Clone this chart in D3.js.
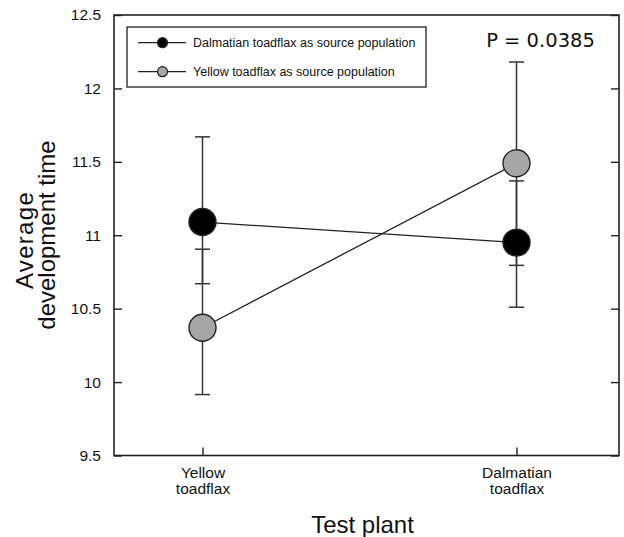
<!DOCTYPE html>
<html><head><meta charset="utf-8">
<script src="https://cdn.jsdelivr.net/npm/d3@7"></script>
<style>body{margin:0;background:#fff}svg{display:block}</style>
</head><body>
<svg id="chart" width="624" height="537"></svg>
<script>
const categories = ["Yellow toadflax", "Dalmatian toadflax"];
const categoryLines = [["Yellow", "toadflax"], ["Dalmatian", "toadflax"]];
const seriesNames = ["Dalmatian toadflax as source population", "Yellow toadflax as source population"];
const dalmatianMean = [11.09, 10.95];
const dalmatianLow = [10.67, 10.51];
const dalmatianHigh = [11.67, 11.37];
const yellowMean = [10.37, 11.49];
const yellowLow = [9.915, 10.795];
const yellowHigh = [10.905, 12.18];
const yTicks = [9.5, 10, 10.5, 11, 11.5, 12, 12.5];
const pText = "P = 0.0385";

const svg = d3.select("#chart");
const L = 114, R = 619, T = 15, B = 455.5;
const y = d3.scaleLinear().domain([9.5, 12.5]).range([B, T]);
const x = d3.scalePoint().domain(categories).range([202.5, 516.5]).padding(0);

const font = "'Liberation Sans', Arial, Helvetica, sans-serif";

// left axis
const gl = svg.append("g").attr("transform", `translate(${L},0)`)
  .call(d3.axisLeft(y).tickValues(yTicks).tickSizeInner(-8).tickSizeOuter(0).tickPadding(13).tickFormat(d3.format("")));
gl.select(".domain").remove();
gl.selectAll("line").attr("stroke", "#222").attr("stroke-width", 1.4);
gl.selectAll("text").attr("font-family", font).attr("font-size", 15.5).attr("fill", "#111");

// right axis
const gr = svg.append("g").attr("transform", `translate(${R},0)`)
  .call(d3.axisRight(y).tickValues(yTicks).tickSizeInner(-8).tickSizeOuter(0).tickFormat(""));
gr.select(".domain").remove();
gr.selectAll("line").attr("stroke", "#222").attr("stroke-width", 1.4);

// bottom axis
const gb = svg.append("g").attr("transform", `translate(0,${B})`)
  .call(d3.axisBottom(x).tickSizeInner(-8).tickSizeOuter(0).tickFormat(""));
gb.select(".domain").remove();
gb.selectAll("line").attr("stroke", "#222").attr("stroke-width", 1.4);
gb.selectAll(".tick").each(function(d, i) {
  const t = d3.select(this).append("text").attr("font-family", font).attr("font-size", 15.5)
    .attr("fill", "#111").attr("text-anchor", "middle");
  categoryLines[i].forEach((s, j) => t.append("tspan").attr("x", 0).attr("y", 22 + j * 16).text(s));
});

// frame
svg.append("rect").attr("x", L).attr("y", T).attr("width", R - L).attr("height", B - T)
  .attr("fill", "none").attr("stroke", "#222").attr("stroke-width", 1.6);

// series
const series = [
  {mean: yellowMean, low: yellowLow, high: yellowHigh, fill: "#a6a6a6"},
  {mean: dalmatianMean, low: dalmatianLow, high: dalmatianHigh, fill: "#000"}
];
const line = d3.line().x((d, i) => x(categories[i])).y(d => y(d));
series.forEach(s => {
  svg.append("path").datum(s.mean).attr("d", line).attr("fill", "none")
    .attr("stroke", "#222").attr("stroke-width", 1.3);
});
series.forEach(s => {
  categories.forEach((c, i) => {
    const cx = x(c);
    const g = svg.append("g").attr("stroke", "#333").attr("stroke-width", 1.5);
    g.append("line").attr("x1", cx).attr("x2", cx).attr("y1", y(s.low[i])).attr("y2", y(s.high[i]));
    g.append("line").attr("x1", cx - 7.5).attr("x2", cx + 7.5).attr("y1", y(s.low[i])).attr("y2", y(s.low[i]));
    g.append("line").attr("x1", cx - 7.5).attr("x2", cx + 7.5).attr("y1", y(s.high[i])).attr("y2", y(s.high[i]));
  });
});
series.forEach(s => {
  svg.selectAll(null).data(s.mean).enter().append("circle")
    .attr("cx", (d, i) => x(categories[i])).attr("cy", d => y(d)).attr("r", 13.5)
    .attr("fill", s.fill).attr("stroke", "#222").attr("stroke-width", 1.4);
});

// legend
const lg = svg.append("g");
lg.append("rect").attr("x", 127).attr("y", 27).attr("width", 299).attr("height", 60)
  .attr("fill", "#fff").attr("stroke", "#222").attr("stroke-width", 1.3);
const legendFills = ["#000", "#a6a6a6"];
seriesNames.forEach((n, i) => {
  const yy = 42.7 + i * 29;
  lg.append("line").attr("x1", 138).attr("x2", 186).attr("y1", yy).attr("y2", yy)
    .attr("stroke", "#222").attr("stroke-width", 1.3);
  lg.append("circle").attr("cx", 162.5).attr("cy", yy).attr("r", 5)
    .attr("fill", legendFills[i]).attr("stroke", "#222").attr("stroke-width", 1.2);
  lg.append("text").attr("x", 193).attr("y", yy + 4.3).attr("font-family", font)
    .attr("font-size", 12.5).attr("fill", "#111").text(n);
});

// P value
svg.append("text").attr("x", 540.5).attr("y", 47).attr("text-anchor", "middle")
  .attr("font-family", "'DejaVu Sans', Verdana, sans-serif").attr("font-size", 19.5)
  .attr("fill", "#111").text(pText);

// axis titles
svg.append("text").attr("transform", "translate(33,240) rotate(-90)").attr("text-anchor", "middle")
  .attr("font-family", font).attr("font-size", 24).attr("letter-spacing", 1.3).attr("fill", "#111").text("Average");
svg.append("text").attr("transform", "translate(55,235) rotate(-90)").attr("text-anchor", "middle")
  .attr("font-family", font).attr("font-size", 24).attr("fill", "#111").text("development time");
svg.append("text").attr("x", 362.5).attr("y", 533).attr("text-anchor", "middle")
  .attr("font-family", font).attr("font-size", 24).attr("fill", "#111").text("Test plant");
</script>
</body></html>
